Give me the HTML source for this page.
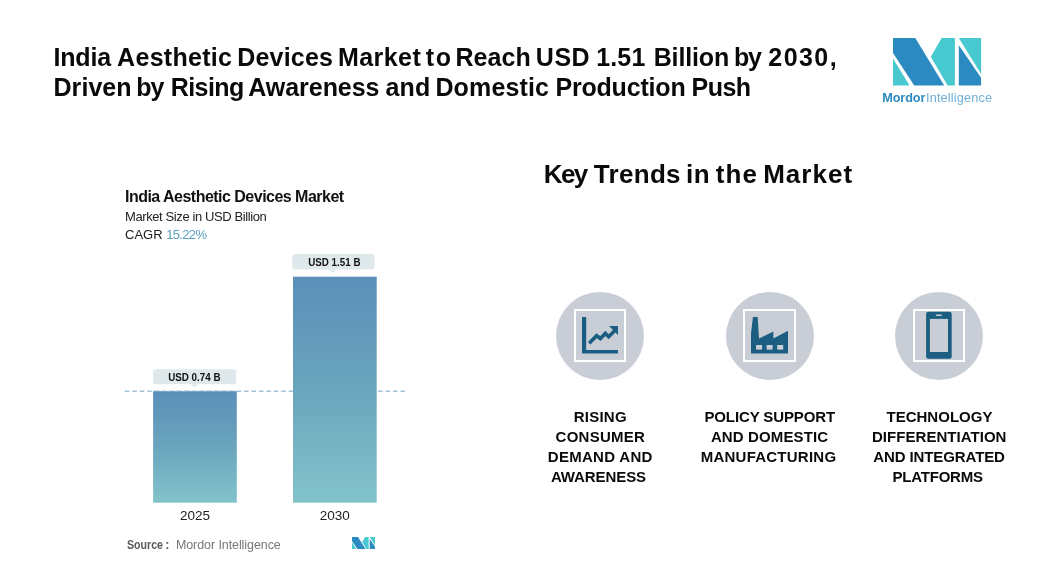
<!DOCTYPE html>
<html>
<head>
<meta charset="utf-8">
<title>India Aesthetic Devices Market</title>
<style>
html,body{margin:0;padding:0;background:#fff;}
body{width:1063px;height:580px;position:relative;overflow:hidden;font-family:"Liberation Sans",sans-serif;color:#0b0b0b;}
#wrap{position:absolute;left:0;top:0;width:1063px;height:580px;filter:brightness(1);}
.abs{position:absolute;white-space:nowrap;}
.tw{font-size:25px;font-weight:bold;line-height:30px;color:#0a0a0a;}
.h2{top:157px;font-size:26px;font-weight:bold;line-height:34px;color:#0a0a0a;}
.ct{left:125px;top:187px;font-size:16px;font-weight:bold;line-height:20px;color:#111;letter-spacing:-0.52px;}
.cs{left:125px;top:209px;font-size:13px;line-height:16px;color:#222;letter-spacing:-0.4px;}
.cg{left:125px;top:227px;font-size:13px;line-height:16px;color:#222;}
.cg b{font-weight:normal;color:#5b9fc0;letter-spacing:-0.65px;}
.tag{position:absolute;font-size:11px;font-weight:bold;text-align:center;color:#111;line-height:17px;height:15px;}
.tag span{display:inline-block;transform:scaleX(0.892);transform-origin:50% 50%;white-space:nowrap;}
.yr{position:absolute;font-size:13.5px;line-height:16px;color:#222;white-space:nowrap;}
.src{top:537px;font-size:12.5px;line-height:16px;color:#777;}
.circle{position:absolute;width:88px;height:88px;border-radius:50%;background:#c9ced6;top:292px;}
.lb{font-size:15px;font-weight:bold;line-height:20px;color:#0a0a0a;}
</style>
</head>
<body>
<div id="wrap">
<!-- title -->
<span class="abs tw" style="left:53.5px;top:42px;letter-spacing:-0.20px">India</span>
<span class="abs tw" style="left:117.1px;top:42px;letter-spacing:0.29px">Aesthetic</span>
<span class="abs tw" style="left:237.2px;top:42px;letter-spacing:0.20px">Devices</span>
<span class="abs tw" style="left:337.9px;top:42px;letter-spacing:0.46px">Market</span>
<span class="abs tw" style="left:425.7px;top:42px;letter-spacing:1.76px">to</span>
<span class="abs tw" style="left:455.4px;top:42px;letter-spacing:0.10px">Reach</span>
<span class="abs tw" style="left:535.8px;top:42px;letter-spacing:0.53px">USD</span>
<span class="abs tw" style="left:596.2px;top:42px;letter-spacing:0.16px">1.51</span>
<span class="abs tw" style="left:653.7px;top:42px;letter-spacing:-0.15px">Billion</span>
<span class="abs tw" style="left:734.1px;top:42px;letter-spacing:-1.39px">by</span>
<span class="abs tw" style="left:768.3px;top:42px;letter-spacing:1.45px">2030,</span>
<span class="abs tw" style="left:53.5px;top:72px;letter-spacing:0.05px">Driven</span>
<span class="abs tw" style="left:136.2px;top:72px;letter-spacing:-0.99px">by</span>
<span class="abs tw" style="left:170.7px;top:72px;letter-spacing:-0.55px">Rising</span>
<span class="abs tw" style="left:248.3px;top:72px;letter-spacing:-0.05px">Awareness</span>
<span class="abs tw" style="left:385.4px;top:72px;letter-spacing:0.18px">and</span>
<span class="abs tw" style="left:435.4px;top:72px;letter-spacing:0.15px">Domestic</span>
<span class="abs tw" style="left:555.4px;top:72px;letter-spacing:-0.18px">Production</span>
<span class="abs tw" style="left:691.5px;top:72px;letter-spacing:-0.52px">Push</span>

<!-- logo -->
<svg class="abs" style="left:880px;top:30px" width="120" height="80" viewBox="880 30 120 80">
  <polygon points="893,38 915.3,38 944.2,85.5 914.2,85.5 893,53" fill="#2b8bc0"/>
  <polygon points="893,58.4 909.6,85.5 893,85.5" fill="#48c9cf"/>
  <polygon points="941.7,38 954.9,38 954.9,85.5 947.6,85.5 930.8,56.8" fill="#48c9cf"/>
  <polygon points="958.8,38 981.1,38 981.1,73.9" fill="#48c9cf"/>
  <polygon points="958.8,45.2 981.1,77.8 981.1,85.5 958.8,85.5" fill="#2b8bc0"/>
</svg>
<div class="abs" style="left:882.2px;top:91px;font-size:12.7px;line-height:15px;letter-spacing:-0.08px;font-weight:bold;color:#2b8bc0">Mordor</div>
<div class="abs" style="left:926px;top:91px;font-size:12.7px;line-height:15px;letter-spacing:0.17px;color:#6fb0d6">Intelligence</div>

<!-- chart -->
<div class="abs ct">India Aesthetic Devices Market</div>
<div class="abs cs">Market Size in USD Billion</div>
<div class="abs cg">CAGR <b>15.22%</b></div>

<svg class="abs" style="left:100px;top:240px" width="330" height="270" viewBox="100 240 330 270">
  <defs><linearGradient id="bg" x1="0" y1="0" x2="0" y2="1"><stop offset="0" stop-color="#5b8fb9"/><stop offset="0.5" stop-color="#6aa5bd"/><stop offset="1" stop-color="#82c3cb"/></linearGradient></defs>
  <line x1="124.8" y1="391.2" x2="407" y2="391.2" stroke="#78a7c4" stroke-width="1" stroke-dasharray="4.6 2.85"/>
  <rect x="153.1" y="391.2" width="83.7" height="111.5" fill="url(#bg)"/>
  <rect x="293" y="276.7" width="83.7" height="226" fill="url(#bg)"/>
  <line x1="153" y1="391.2" x2="237" y2="391.2" stroke="#8fb9d0" stroke-width="0.8" stroke-dasharray="4.6 2.85" stroke-dashoffset="-0.6"/>
  <rect x="153.1" y="369.3" width="83" height="15" rx="3" fill="#dfe9ec"/>
  <polygon points="191.1,384.2 198.1,384.2 194.6,387.4" fill="#dfe9ec"/>
  <rect x="292.2" y="254.1" width="82.4" height="15.5" rx="3" fill="#dfe9ec"/>
  <polygon points="329.4,269.5 336.4,269.5 332.9,272.8" fill="#dfe9ec"/>
</svg>
<div class="tag" style="left:153px;top:369px;width:83px"><span>USD 0.74 B</span></div>
<div class="tag" style="left:293px;top:254px;width:83px"><span>USD 1.51 B</span></div>
<div class="yr" style="left:180.1px;top:508px">2025</div>
<div class="yr" style="left:319.7px;top:508px">2030</div>
<div class="abs src" style="left:126.6px;font-weight:bold;color:#595959;transform:scaleX(0.85);transform-origin:0 0">Source</div>
<div class="abs src" style="left:165.3px;font-weight:bold;color:#595959">:</div>
<div class="abs src" style="left:175.9px;letter-spacing:-0.08px">Mordor Intelligence</div>
<svg class="abs" style="left:351.8px;top:536.9px" width="23.7" height="12.4" viewBox="893 38 88.1 47.5" preserveAspectRatio="none">
  <polygon points="893,38 915.3,38 944.2,85.5 914.2,85.5 893,53" fill="#2b8bc0"/>
  <polygon points="893,58.4 909.6,85.5 893,85.5" fill="#48c9cf"/>
  <polygon points="941.7,38 954.9,38 954.9,85.5 947.6,85.5 930.8,56.8" fill="#48c9cf"/>
  <polygon points="958.8,38 981.1,38 981.1,73.9" fill="#48c9cf"/>
  <polygon points="958.8,45.2 981.1,77.8 981.1,85.5 958.8,85.5" fill="#2b8bc0"/>
</svg>

<!-- right -->
<span class="abs h2" style="left:543.7px;letter-spacing:-1.58px">Key</span>
<span class="abs h2" style="left:593.8px;letter-spacing:0.30px">Trends</span>
<span class="abs h2" style="left:686.1px;letter-spacing:0.35px">in</span>
<span class="abs h2" style="left:715.8px;letter-spacing:1.08px">the</span>
<span class="abs h2" style="left:763.2px;letter-spacing:1.01px">Market</span>

<div class="circle" style="left:556px"></div>
<div class="circle" style="left:726px"></div>
<div class="circle" style="left:895px"></div>

<svg class="abs" style="left:556px;top:292px" width="88" height="88" viewBox="556 292 88 88">
  <rect x="575" y="310" width="50" height="51" fill="none" stroke="#fff" stroke-width="2"/>
  <path d="M582 317h4.2v33h31.8v3.6h-36z" fill="#1b5e82"/>
  <path d="M589.2 343.2l7.4-7.5 3.8 2.8 5-5.1 3.3 3.3 6.2-6.2" fill="none" stroke="#1b5e82" stroke-width="3.7"/>
  <path d="M609 326h9v9z" fill="#1b5e82"/>
</svg>
<svg class="abs" style="left:726px;top:292px" width="88" height="88" viewBox="726 292 88 88">
  <rect x="744" y="310" width="51" height="51" fill="none" stroke="#fff" stroke-width="2"/>
  <path d="M752.9 317h4.8l1.3 21.4 14.4-6.8v6.8l14.6-7.6v22.8h-37v-20z" fill="#1b5e82"/>
  <rect x="756.1" y="345" width="6" height="4.6" fill="#c9ced6"/>
  <rect x="766.6" y="345" width="6" height="4.6" fill="#c9ced6"/>
  <rect x="777.2" y="345" width="6" height="4.6" fill="#c9ced6"/>
</svg>
<svg class="abs" style="left:895px;top:292px" width="88" height="88" viewBox="895 292 88 88">
  <rect x="914" y="310" width="50" height="51" fill="none" stroke="#fff" stroke-width="2"/>
  <rect x="926.1" y="311.8" width="25.6" height="46.9" rx="2.2" fill="#1b5e82"/>
  <rect x="929.9" y="318.9" width="18.1" height="33.1" fill="#c9ced6"/>
  <rect x="935.8" y="314.5" width="6.1" height="1.5" rx="0.7" fill="#c9ced6"/>
</svg>

<span class="abs lb" style="left:573.7px;top:407px;letter-spacing:0.24px">RISING</span>
<span class="abs lb" style="left:555.6px;top:427px;letter-spacing:0.25px">CONSUMER</span>
<span class="abs lb" style="left:547.8px;top:447px;letter-spacing:0.29px">DEMAND AND</span>
<span class="abs lb" style="left:550.9px;top:467px;letter-spacing:-0.08px">AWARENESS</span>
<span class="abs lb" style="left:704.4px;top:407px;letter-spacing:-0.11px">POLICY SUPPORT</span>
<span class="abs lb" style="left:710.9px;top:427px;letter-spacing:0.12px">AND DOMESTIC</span>
<span class="abs lb" style="left:700.7px;top:447px;letter-spacing:0.24px">MANUFACTURING</span>
<span class="abs lb" style="left:886.5px;top:407px;letter-spacing:0.01px">TECHNOLOGY</span>
<span class="abs lb" style="left:872.0px;top:427px;letter-spacing:0.04px">DIFFERENTIATION</span>
<span class="abs lb" style="left:873.3px;top:447px;letter-spacing:-0.11px">AND INTEGRATED</span>
<span class="abs lb" style="left:892.5px;top:467px;letter-spacing:-0.21px">PLATFORMS</span>
</div>
</body>
</html>
